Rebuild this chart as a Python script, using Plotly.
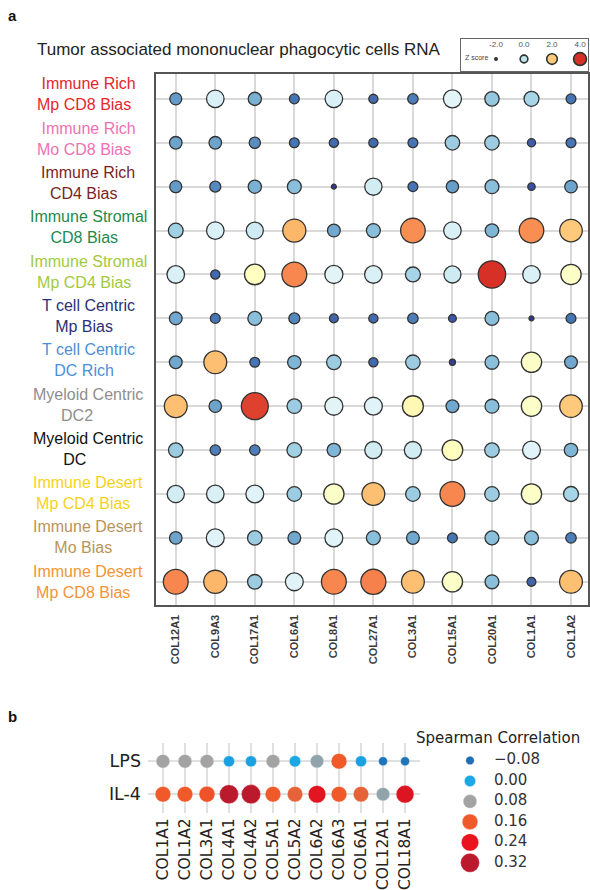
import numpy as np
import plotly.graph_objects as go

W, H = 590, 890

# ---------------- Panel a: collagen z-scores per TME subtype ----------------
genes_a = ["COL12A1", "COL9A3", "COL17A1", "COL6A1", "COL8A1", "COL27A1",
           "COL3A1", "COL15A1", "COL20A1", "COL1A1", "COL1A2"]

subtype_line1 = ["Immune Rich", "Immune Rich", "Immune Rich", "Immune Stromal",
                 "Immune Stromal", "T cell Centric", "T cell Centric",
                 "Myeloid Centric", "Myeloid Centric", "Immune Desert",
                 "Immune Desert", "Immune Desert"]
subtype_line2 = ["Mp CD8 Bias", "Mo CD8 Bias", "CD4 Bias", "CD8 Bias",
                 "Mp CD4 Bias", "Mp Bias", "DC Rich", "DC2", "DC",
                 "Mp CD4 Bias", "Mo Bias", "Mp CD8 Bias"]
subtype_colors = ["#e4262d", "#ee72b0", "#7b1f25", "#1f8a4c", "#a3c940",
                  "#2c3079", "#4d8fd6", "#8e8e8e", "#111111", "#f6d21a",
                  "#b8945a", "#f29436"]

zscore = [
    [-1.0, 0.35, -0.75, -1.4, 0.35, -1.5, -1.3, 0.5, -0.5, -0.35, -1.4],
    [-0.9, -0.9, -1.15, -1.4, -1.5, -1.5, -1.4, -0.45, -0.45, -1.65, -1.4],
    [-1.0, -1.2, -0.75, -0.6, -2.0, 0.25, -1.4, -0.95, -0.6, -1.75, -0.9],
    [-0.4, 0.35, 0.2, 2.2, -0.85, -0.6, 2.8, 0.35, -0.7, 2.8, 2.0],
    [0.35, -1.5, 1.3, 2.9, 0.5, 0.35, -0.35, 0.2, 4.0, 0.35, 1.2],
    [-0.85, -1.4, -0.6, -1.2, -1.55, -1.5, -1.3, -1.7, -0.6, -2.0, -1.4],
    [-0.85, 2.1, -1.4, -0.7, -0.45, -1.5, -0.45, -1.9, -0.6, 1.2, -0.85],
    [2.1, -0.9, 3.8, -0.45, 0.5, 0.45, 1.4, -0.85, -0.6, 1.2, 2.0],
    [-0.45, -1.3, -1.3, -0.4, -0.7, 0.25, 0.25, 1.3, -0.45, 0.45, -0.7],
    [0.25, 0.35, 0.45, -0.45, 1.2, 2.1, -0.45, 2.9, -0.45, 1.2, -0.35],
    [-0.9, 0.45, -0.45, -0.85, 0.45, -0.6, -0.85, -1.4, -0.6, -0.6, -1.3],
    [2.9, 2.2, -0.45, 0.45, 2.9, 3.0, 2.1, 1.2, -0.6, -1.55, 2.1],
]

zscore_legend = [-2.0, 0.0, 2.0, 4.0]

# ---------------- Panel b: Spearman correlation ----------------
genes_b = ["COL1A1", "COL1A2", "COL3A1", "COL4A1", "COL4A2", "COL5A1",
           "COL5A2", "COL6A2", "COL6A3", "COL6A1", "COL12A1", "COL18A1"]
treatments = ["LPS", "IL-4"]
spearman_lps = [0.08, 0.08, 0.08, -0.01, -0.01, 0.08, 0.0, 0.07, 0.16, -0.01, -0.07, -0.07]
spearman_il4 = [0.16, 0.16, 0.17, 0.32, 0.33, 0.16, 0.15, 0.25, 0.16, 0.15, 0.07, 0.26]
spearman_legend = [-0.08, 0.0, 0.08, 0.16, 0.24, 0.32]

# ---------------- scales ----------------
Z_MIN, Z_MAX = -2.0, 4.2
Z_STOPS = [(-2.0, "#313695"), (-1.4, "#4575b4"), (-0.8, "#74add1"),
           (-0.3, "#abd9e9"), (0.45, "#e0f3f8"), (1.3, "#ffffbf"),
           (1.75, "#fee090"), (2.3, "#fdae61"), (3.3, "#f46d43"),
           (4.0, "#d73027"), (4.2, "#b8232a")]
z_scale = [[(z - Z_MIN) / (Z_MAX - Z_MIN), c] for z, c in Z_STOPS]

CORR_COLORS = ["#1f6eb4", "#1ba8e6", "#a3a3a3", "#f05a2a", "#e8141e", "#bb1a2c"]
corr_scale = [[i / (len(CORR_COLORS) - 1), c] for i, c in enumerate(CORR_COLORS)]
C_MIN, C_MAX = -0.08, 0.32


def z_size(z, k=11.0):
    z = np.asarray(z, dtype=float)
    return k * np.sqrt(np.clip(z + 2.2, 0.08, None))


def corr_size(v):
    v = np.asarray(v, dtype=float)
    return np.sqrt(130 + 720 * v)


def px_x(p):
    return p / W


def px_y(p):
    return 1 - p / H


SANS = "Liberation Sans, Arial, sans-serif"
DEJA = "DejaVu Sans, sans-serif"

fig = go.Figure()

# panel a dots
za = np.array(zscore)
rows, cols = np.indices(za.shape)
fig.add_trace(go.Scatter(
    x=cols.ravel(), y=rows.ravel(), mode="markers",
    marker=dict(size=z_size(za.ravel()), color=za.ravel(),
                colorscale=z_scale, cmin=Z_MIN, cmax=Z_MAX,
                line=dict(color="#333333", width=1.3), opacity=1),
    xaxis="x", yaxis="y", hoverinfo="skip"))

# panel a size/colour key
fig.add_trace(go.Scatter(
    x=zscore_legend, y=[0.37] * len(zscore_legend), mode="markers",
    marker=dict(size=z_size(zscore_legend, k=5.2), color=zscore_legend,
                colorscale=z_scale, cmin=Z_MIN, cmax=Z_MAX, opacity=1,
                line=dict(color="#2a332c", width=1.6)),
    xaxis="x3", yaxis="y3", hoverinfo="skip"))
fig.add_trace(go.Scatter(
    x=zscore_legend, y=[0.8] * len(zscore_legend), mode="text",
    text=[f"{v:.1f}" for v in zscore_legend],
    textfont=dict(family=SANS, size=8, color="#555555"),
    xaxis="x3", yaxis="y3", hoverinfo="skip"))

# panel b dots
vals_b = np.array([spearman_lps, spearman_il4])
rb, cb = np.indices(vals_b.shape)
fig.add_trace(go.Scatter(
    x=cb.ravel(), y=rb.ravel(), mode="markers",
    marker=dict(size=corr_size(vals_b.ravel()), color=vals_b.ravel(),
                colorscale=corr_scale, cmin=C_MIN, cmax=C_MAX, opacity=1,
                line=dict(color="rgba(255,255,255,0.6)", width=0.6)),
    xaxis="x2", yaxis="y2", hoverinfo="skip"))

# panel b legend
leg_idx = list(range(len(spearman_legend)))
fig.add_trace(go.Scatter(
    x=[0.2] * len(spearman_legend), y=leg_idx, mode="markers",
    marker=dict(size=corr_size(spearman_legend), color=spearman_legend,
                colorscale=corr_scale, cmin=C_MIN, cmax=C_MAX, opacity=1,
                line=dict(color="rgba(255,255,255,0.6)", width=0.6)),
    xaxis="x4", yaxis="y4", hoverinfo="skip"))
fig.add_trace(go.Scatter(
    x=[0.36] * len(spearman_legend), y=leg_idx, mode="text",
    text=[f"{v:.2f}".replace("-", "\u2212") for v in spearman_legend],
    textposition="middle right",
    textfont=dict(family=DEJA, size=15, color="#333333"),
    xaxis="x4", yaxis="y4", hoverinfo="skip"))

grid_a = dict(showgrid=True, gridcolor="#d9d9d9", gridwidth=1.5, zeroline=False,
              showline=True, mirror=True, linecolor="#555555", linewidth=1.5, ticks="")
grid_b = dict(showgrid=True, gridcolor="#e0e0e0", gridwidth=1.5, zeroline=False,
              showline=False, ticks="")
hidden = dict(showgrid=False, zeroline=False, showticklabels=False, ticks="")

NB = "\u00a0"
line2_pad = {"DC": 6, "DC2": 5}

annotations = []
# subtype labels, two lines each, centred
for r, (l1, l2, col) in enumerate(zip(subtype_line1, subtype_line2, subtype_colors)):
    lift = 4.5 * (1 - r / 11)
    pad = NB * line2_pad.get(l2, 2)
    annotations.append(dict(
        text=f"{l1}<br>{l2}{pad}", x=px_x(88), xref="paper", y=r, yref="y",
        yshift=lift, xanchor="center", yanchor="middle", align="center",
        showarrow=False, font=dict(family=SANS, size=16, color=col)))

annotations += [
    dict(text="<b>a</b>", x=px_x(6), y=px_y(16), xref="paper", yref="paper",
         xanchor="left", yanchor="middle", showarrow=False,
         font=dict(family=SANS, size=15, color="#111111")),
    dict(text="<b>b</b>", x=px_x(6), y=px_y(718), xref="paper", yref="paper",
         xanchor="left", yanchor="middle", showarrow=False,
         font=dict(family=SANS, size=15, color="#111111")),
    dict(text="Tumor associated mononuclear phagocytic cells RNA",
         x=px_x(238), y=px_y(50), xref="paper", yref="paper",
         xanchor="center", yanchor="middle", showarrow=False,
         font=dict(family=SANS, size=17, color="#222222")),
    dict(text="Z score", x=px_x(463), y=px_y(58), xref="paper", yref="paper",
         xanchor="left", yanchor="middle", showarrow=False,
         font=dict(family=SANS, size=7, color="#444444")),
    dict(text="Spearman Correlation", x=px_x(414), y=px_y(740),
         xref="paper", yref="paper", xanchor="left", yanchor="middle",
         showarrow=False, font=dict(family=DEJA, size=15, color="#222222")),
]

fig.update_layout(
    width=W, height=H, margin=dict(l=0, r=0, t=0, b=0),
    paper_bgcolor="white", plot_bgcolor="rgba(0,0,0,0)", showlegend=False,
    xaxis=dict(domain=[px_x(156), px_x(588)], range=[-0.5, 10.43],
               tickmode="array", tickvals=list(range(len(genes_a))), ticktext=genes_a,
               tickangle=-90, ticklabelstandoff=4,
               tickfont=dict(family=SANS, size=11, color="#3a3a3a", weight="bold"),
               **grid_a),
    yaxis=dict(domain=[px_y(606), px_y(74)], range=[11.52, -0.57],
               tickmode="array", tickvals=list(range(len(zscore))),
               showticklabels=False, **grid_a),
    xaxis2=dict(domain=[px_x(148), px_x(420)], range=[-0.68, 11.68],
                tickmode="array", tickvals=list(range(len(genes_b))), ticktext=genes_b,
                tickangle=-90, anchor="y2", ticklabelstandoff=1,
                tickfont=dict(family=DEJA, size=15.5, color="#222222"), **grid_b),
    yaxis2=dict(domain=[px_y(815), px_y(745)], range=[1.576, -0.545],
                tickmode="array", tickvals=[0, 1], ticktext=treatments, anchor="x2",
                ticklabelstandoff=6,
                tickfont=dict(family=DEJA, size=17.5, color="#222222"), **grid_b),
    xaxis3=dict(domain=[px_x(461), px_x(588)], range=[-4.5, 4.57], anchor="y3",
                showline=True, mirror=True, linecolor="#666666", linewidth=1.2, **hidden),
    yaxis3=dict(domain=[px_y(71), px_y(39)], range=[0, 1], anchor="x3",
                showline=True, mirror=True, linecolor="#666666", linewidth=1.2, **hidden),
    xaxis4=dict(domain=[px_x(440), px_x(590)], range=[0, 1], anchor="y4", **hidden),
    yaxis4=dict(domain=[px_y(875), px_y(752)], range=[5.5, -0.5], anchor="x4", **hidden),
    annotations=annotations,
)

fig.write_html("out.html")
